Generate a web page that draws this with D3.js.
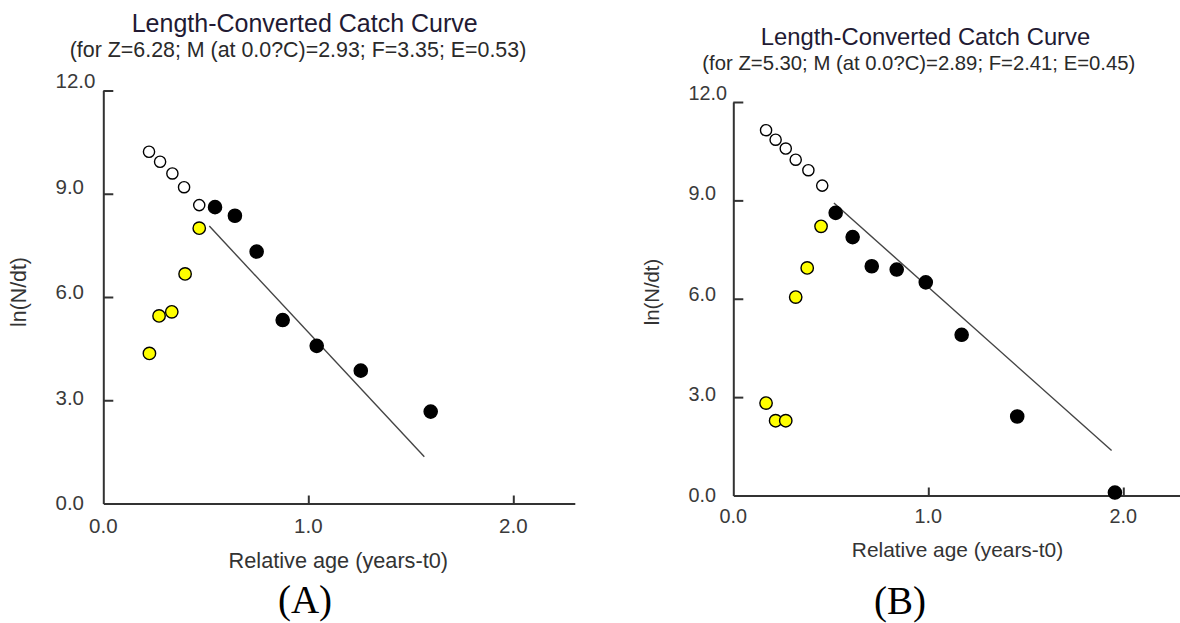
<!DOCTYPE html>
<html>
  <head>
    <meta charset="utf-8" />
    <title>Length-Converted Catch Curve</title>
    <script src="https://d3js.org/d3.v7.min.js"></script>
    <style>
      html, body { margin: 0; padding: 0; background: #fff; }
      svg { display: block; }
    </style>
  </head>
  <body>
    <svg id="chart"></svg>
    <script>
      // ---- data ----
      const ageTicks = [0, 1, 2];
      const lnTicks = [0, 3, 6, 9, 12];
      const chartTitle = "Length-Converted Catch Curve";
      const xTitle = "Relative age (years-t0)";
      const yTitle = "ln(N/dt)";

      // panel A
      const subtitleA = "(for Z=6.28; M (at 0.0?C)=2.93; F=3.35; E=0.53)";
      const openA = [[0.223, 10.22], [0.277, 9.93], [0.337, 9.59], [0.394, 9.19], [0.468, 8.67]];
      const usedA = [[0.545, 8.61], [0.642, 8.36], [0.748, 7.32], [0.875, 5.33], [1.041, 4.58], [1.256, 3.86], [1.597, 2.67]];
      const yellowA = [[0.468, 8.0], [0.399, 6.67], [0.334, 5.57], [0.272, 5.45], [0.225, 4.36]];
      const fitA = [[0.517, 8.06], [1.566, 1.36]];

      // panel B
      const subtitleB = "(for Z=5.30; M (at 0.0?C)=2.89; F=2.41; E=0.45)";
      const openB = [[0.168, 11.14], [0.217, 10.85], [0.269, 10.58], [0.32, 10.24], [0.385, 9.92], [0.456, 9.45]];
      const usedB = [[0.525, 8.62], [0.612, 7.88], [0.71, 6.99], [0.838, 6.89], [0.987, 6.5], [1.171, 4.9], [1.456, 2.41], [1.957, 0.09]];
      const yellowB = [[0.45, 8.21], [0.379, 6.94], [0.32, 6.05], [0.168, 2.82], [0.217, 2.28], [0.269, 2.28]];
      const fitB = [[0.516, 8.92], [1.94, 1.37]];

      const W = 1180, H = 623;
      const sans = "'Liberation Sans', Arial, sans-serif";
      const serif = "'Liberation Serif', 'Times New Roman', serif";
      const svg = d3.select("#chart").attr("width", W).attr("height", H);
      svg.append("rect").attr("width", W).attr("height", H).attr("fill", "#fff");

      // layout of each panel (pixels)
      const panels = [
        {
          letter: "(A)", subtitle: subtitleA, open: openA, used: usedA, yellow: yellowA, fit: fitA,
          left: 103.3, right: 574.8, bottom: 503.5, top: 90.5,
          title: [304.7, 32, 25], sub: [298, 57, 21.4],
          tickFont: 20.5, yLabX: 55.5, yLabRange: [510, 88], xLabBase: 533,
          xTitle: [338.3, 568.3, 21.7], yTitle: [26, 292, 21.3], letterPos: [305, 613, 39]
        },
        {
          letter: "(B)", subtitle: subtitleB, open: openB, used: usedB, yellow: yellowB, fit: fitB,
          left: 733.3, right: 1181.8, bottom: 495.5, top: 102,
          title: [925.5, 45, 23.8], sub: [918.8, 70, 20.3],
          tickFont: 19.8, yLabX: 688.5, yLabRange: [501.7, 100], xLabBase: 523,
          xTitle: [957.5, 556.7, 20.9], yTitle: [659, 292, 20.3], letterPos: [900, 614, 39]
        }
      ];

      const fmt = d3.format(".1f");

      panels.forEach(function (p) {
        var g = svg.append("g").style("font-family", sans);
        var x = d3.scaleLinear().domain([0, 2.3]).range([p.left, p.right]);
        var y = d3.scaleLinear().domain([0, 12]).range([p.bottom, p.top]);
        var yLab = d3.scaleLinear().domain([0, 12]).range(p.yLabRange);

        // titles
        g.append("text").attr("x", p.title[0]).attr("y", p.title[1])
          .attr("text-anchor", "middle").attr("font-size", p.title[2])
          .attr("fill", "#221a33").text(chartTitle);
        g.append("text").attr("x", p.sub[0]).attr("y", p.sub[1])
          .attr("text-anchor", "middle").attr("font-size", p.sub[2])
          .attr("fill", "#2a2a2a").text(p.subtitle);

        // axes (ticks point inward)
        var yAxis = g.append("g").attr("transform", "translate(" + p.left + ",0)")
          .call(d3.axisLeft(y).tickValues(lnTicks.slice(1)).tickSizeInner(-10).tickSizeOuter(0).tickFormat(""));
        var xAxis = g.append("g").attr("transform", "translate(0," + p.bottom + ")")
          .call(d3.axisBottom(x).tickValues(ageTicks.slice(1)).tickSizeInner(-8).tickSizeOuter(0).tickFormat(""));
        [yAxis, xAxis].forEach(function (a) {
          a.select(".domain").attr("stroke", "#333").attr("stroke-width", 2);
          a.selectAll(".tick line").attr("stroke", "#333").attr("stroke-width", 2);
        });

        // y tick labels (left-aligned, as in the original)
        g.selectAll(".ylab").data(lnTicks).enter().append("text")
          .attr("x", p.yLabX).attr("y", function (d) { return yLab(d); })
          .attr("font-size", p.tickFont).attr("fill", "#3a3a3a")
          .text(function (d) { return fmt(d); });

        // x tick labels
        g.selectAll(".xlab").data(ageTicks).enter().append("text")
          .attr("x", function (d) { return x(d); }).attr("y", p.xLabBase)
          .attr("text-anchor", "middle").attr("font-size", p.tickFont).attr("fill", "#3a3a3a")
          .text(function (d) { return fmt(d); });

        // axis titles
        g.append("text").attr("x", p.xTitle[0]).attr("y", p.xTitle[1])
          .attr("text-anchor", "middle").attr("font-size", p.xTitle[2]).attr("fill", "#333")
          .text(xTitle);
        g.append("text")
          .attr("transform", "translate(" + p.yTitle[0] + "," + p.yTitle[1] + ") rotate(-90)")
          .attr("text-anchor", "middle").attr("font-size", p.yTitle[2]).attr("fill", "#333")
          .text(yTitle);

        // regression line
        g.append("path").datum(p.fit)
          .attr("d", d3.line().x(function (d) { return x(d[0]); }).y(function (d) { return y(d[1]); }))
          .attr("fill", "none").attr("stroke", "#444").attr("stroke-width", 1.4);

        // points
        function dots(data, r, fill) {
          g.append("g").selectAll("circle").data(data).enter().append("circle")
            .attr("cx", function (d) { return x(d[0]); })
            .attr("cy", function (d) { return y(d[1]); })
            .attr("r", r).attr("fill", fill)
            .attr("stroke", "#000").attr("stroke-width", 1.4);
        }
        dots(p.open, 5.6, "#fff");
        dots(p.yellow, 6.2, "#ffff00");
        dots(p.used, 6.6, "#000");

        // panel letter
        g.append("text").attr("x", p.letterPos[0]).attr("y", p.letterPos[1])
          .attr("text-anchor", "middle").attr("font-size", p.letterPos[2])
          .style("font-family", serif)
          .attr("fill", "#000").text(p.letter);
      });
    </script>
  </body>
</html>
